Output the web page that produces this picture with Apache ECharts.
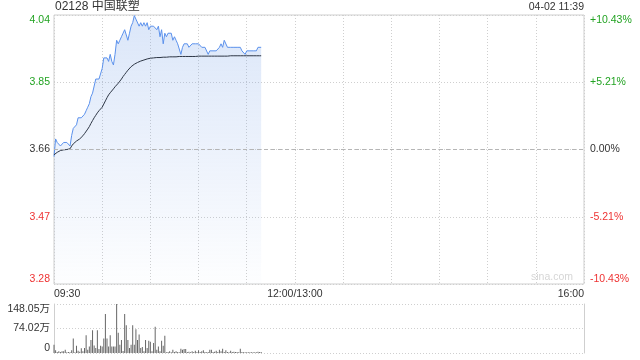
<!DOCTYPE html>
<html>
<head>
<meta charset="utf-8">
<script src="https://cdn.jsdelivr.net/npm/echarts@6/dist/echarts.min.js"></script>
<style>html,body{margin:0;padding:0;background:#fff;}#c{width:640px;height:360px;}</style>
</head>
<body>
<div id="c"></div>
<script>
// ---- data ----
const titleText = '02128 中国联塑';
const timeStamp = '04-02 11:39';
const prevClose = 3.66;
const limitPct = 10.43;
const xTickMinutes = [0, 150, 330];
const xTickLabels = ['09:30', '12:00/13:00', '16:00'];
const leftTickLabels = ['3.28', '3.47', '3.66', '3.85', '4.04'];
const rightTickLabels = ['-10.43%', '-5.21%', '0.00%', '+5.21%', '+10.43%'];
const volTickLabels = ['0', '74.02万', '148.05万'];
const volMax = 148.05;

// price per minute from 09:30
const price = [
3.64,3.69,3.68,3.68,3.67,3.67,3.68,3.68,3.68,3.68,
3.67,3.70,3.72,3.72,3.73,3.75,3.75,3.75,3.75,3.76,
3.77,3.78,3.79,3.81,3.82,3.82,3.86,3.86,3.86,3.86,
3.89,3.92,3.92,3.92,3.91,3.93,3.91,3.90,3.93,3.97,
3.96,3.97,3.98,3.99,4.00,4.00,3.97,3.99,4.01,4.02,
4.04,4.03,4.03,4.01,4.02,4.01,4.02,4.01,4.02,4.00,
4.01,4.01,4.01,4.01,4.00,4.01,3.98,4.00,3.96,3.99,
3.98,3.99,3.99,3.99,3.97,3.98,3.97,3.96,3.96,3.93,
3.95,3.96,3.96,3.96,3.95,3.95,3.96,3.96,3.96,3.96,
3.96,3.96,3.95,3.95,3.95,3.95,3.93,3.94,3.94,3.94,
3.94,3.94,3.94,3.95,3.96,3.95,3.97,3.97,3.95,3.95,
3.95,3.95,3.95,3.95,3.95,3.95,3.95,3.94,3.94,3.93,
3.94,3.94,3.94,3.94,3.94,3.94,3.94,3.95,3.95,3.95
];
// average price per minute
const avgPrice = [
3.645,3.649,3.652,3.655,3.657,3.658,3.659,3.659,3.660,3.660,
3.662,3.670,3.676,3.680,3.684,3.687,3.690,3.695,3.699,3.705,
3.710,3.718,3.725,3.734,3.742,3.750,3.757,3.764,3.770,3.775,
3.780,3.789,3.798,3.807,3.815,3.821,3.826,3.832,3.838,3.843,
3.848,3.854,3.860,3.867,3.873,3.879,3.885,3.890,3.895,3.899,
3.902,3.905,3.907,3.909,3.911,3.913,3.914,3.916,3.917,3.918,
3.919,3.919,3.920,3.920,3.921,3.921,3.921,3.922,3.922,3.922,
3.922,3.923,3.923,3.923,3.923,3.923,3.923,3.924,3.924,3.924,
3.924,3.924,3.924,3.924,3.924,3.924,3.924,3.924,3.924,3.925,
3.925,3.925,3.925,3.925,3.925,3.925,3.925,3.925,3.925,3.925,
3.925,3.925,3.925,3.925,3.925,3.925,3.925,3.925,3.925,3.925,
3.926,3.926,3.926,3.926,3.926,3.926,3.926,3.926,3.926,3.926,
3.926,3.926,3.926,3.926,3.926,3.926,3.926,3.926,3.926,3.926
];
// volume per minute, in 万
const volume = [
25,8,3,5,3,5,5,10,2,3,
2,8,44,2,22,7,4,14,5,15,
54,10,20,39,69,23,15,69,12,22,
20,44,118,44,20,54,20,20,20,148,
61,25,39,6,118,84,39,15,25,84,
25,72,39,56,15,18,5,39,15,37,
34,5,30,79,10,20,5,37,22,52,
2,3,5,2,10,3,5,3,2,13,
10,12,12,3,4,2,5,3,7,3,
8,3,5,8,3,2,3,10,10,3,
4,7,3,10,5,13,3,8,3,2,
7,3,4,3,3,2,13,3,2,2,
2,2,2,2,2,2,2,4,3,3
];

// ---- chart ----
const FONT = 'Arial, "Liberation Sans", "Noto Sans CJK SC", sans-serif';
const GREEN = '#22a322';
const RED = '#ee3333';
const GRID_C = '#cfcfcf';
const pMin = prevClose * (1 - limitPct / 100);
const pMax = prevClose * (1 + limitPct / 100);
const pctStep = limitPct / 2;
function tickIdx(v) { return Math.round((v + limitPct) / pctStep); }
function signColor(v) { return v > 0.001 ? GREEN : (v < -0.001 ? RED : '#333'); }

const chart = echarts.init(document.getElementById('c'), null, {renderer: 'canvas'});
chart.setOption({
  animation: false,
  textStyle: {fontFamily: FONT},
  title: [
    {text: titleText, left: 55, top: 1, padding: 0, textStyle: {fontSize: 12, fontWeight: 'normal', color: '#333', fontFamily: FONT}},
    {text: timeStamp, right: 56, top: 2, padding: 0, textStyle: {fontSize: 10.5, fontWeight: 'normal', color: '#333', fontFamily: FONT}}
  ],
  graphic: [{
    type: 'text', right: 67, top: 272,
    style: {text: 'sina.com', fill: '#d6d6d6', fontSize: 10.5, fontFamily: FONT}
  }],
  grid: [
    {left: 54, right: 56, top: 15, height: 269, show: true, borderColor: GRID_C, borderWidth: 1, backgroundColor: 'transparent'},
    {left: 54, right: 56, top: 304, height: 49}
  ],
  xAxis: [
    {
      type: 'value', gridIndex: 0, min: 0, max: 330, interval: 30,
      axisLine: {show: false}, axisTick: {show: false},
      splitLine: {show: true, lineStyle: {color: GRID_C, type: [1, 2], width: 1}},
      axisLabel: {
        show: true, fontSize: 10.5, color: '#333', margin: 5, fontFamily: FONT,
        showMinLabel: true, showMaxLabel: true,
        alignMinLabel: 'left', alignMaxLabel: 'right',
        formatter: function (v) { const k = xTickMinutes.indexOf(v); return k >= 0 ? xTickLabels[k] : ''; }
      }
    },
    {
      type: 'value', gridIndex: 1, min: 0, max: 330, interval: 30,
      axisLine: {show: false}, axisTick: {show: false}, axisLabel: {show: false}, splitLine: {show: false}
    }
  ],
  yAxis: [
    {type: 'value', gridIndex: 0, min: pMin, max: pMax, show: false, splitLine: {show: false}},
    {
      type: 'value', gridIndex: 0, position: 'left', min: -limitPct, max: limitPct, interval: pctStep,
      axisLine: {show: false}, axisTick: {show: false},
      splitLine: {show: true, lineStyle: {color: GRID_C, type: [1, 2], width: 1}},
      axisLabel: {
        fontSize: 10.5, margin: 4, fontFamily: FONT,
        showMinLabel: true, showMaxLabel: true,
        verticalAlignMinLabel: 'bottom', verticalAlignMaxLabel: 'top',
        color: function (v) { return signColor(v); },
        formatter: function (v) { return leftTickLabels[tickIdx(v)]; }
      }
    },
    {
      type: 'value', gridIndex: 0, position: 'right', min: -limitPct, max: limitPct, interval: pctStep,
      axisLine: {show: false}, axisTick: {show: false}, splitLine: {show: false},
      axisLabel: {
        fontSize: 10.5, margin: 6, fontFamily: FONT,
        showMinLabel: true, showMaxLabel: true,
        verticalAlignMinLabel: 'bottom', verticalAlignMaxLabel: 'top',
        color: function (v) { return signColor(v); },
        formatter: function (v) { return rightTickLabels[tickIdx(v)]; }
      }
    },
    {
      type: 'value', gridIndex: 1, position: 'left', min: 0, max: volMax, interval: volMax / 2,
      axisLine: {show: true, lineStyle: {color: GRID_C}}, axisTick: {show: false},
      splitLine: {show: true, lineStyle: {color: GRID_C, type: [1, 2], width: 1}},
      axisLabel: {
        fontSize: 10.5, margin: 4, color: '#333', fontFamily: FONT,
        showMinLabel: true, showMaxLabel: true,
        verticalAlignMinLabel: 'bottom', verticalAlignMaxLabel: 'top',
        formatter: function (v) { return volTickLabels[Math.round(v / (volMax / 2))]; }
      }
    },
    {
      type: 'value', gridIndex: 1, position: 'right', min: 0, max: volMax, interval: volMax / 2,
      axisLine: {show: true, lineStyle: {color: GRID_C}}, axisTick: {show: false},
      axisLabel: {show: false}, splitLine: {show: false}
    }
  ],
  series: [
    {
      type: 'line', xAxisIndex: 0, yAxisIndex: 0,
      data: price.map(function (p, i) { return [i, p]; }),
      symbol: 'none', lineStyle: {color: '#5b91ec', width: 1},
      areaStyle: {
        origin: 'start',
        color: new echarts.graphic.LinearGradient(0, 0, 0, 1, [
          {offset: 0, color: 'rgba(120,162,232,0.38)'},
          {offset: 1, color: 'rgba(120,162,232,0.02)'}
        ])
      },
      markLine: {
        silent: true, symbol: 'none', label: {show: false},
        lineStyle: {color: '#b5b5b5', type: [4, 3], width: 1},
        data: [{yAxis: prevClose}]
      },
      z: 3
    },
    {
      type: 'line', xAxisIndex: 0, yAxisIndex: 0,
      data: avgPrice.map(function (p, i) { return [i, p]; }),
      symbol: 'none', lineStyle: {color: '#2d3645', width: 1}, z: 4
    },
    {
      type: 'bar', xAxisIndex: 1, yAxisIndex: 3,
      data: volume.map(function (v, i) { return [i, v]; }),
      barWidth: 1, itemStyle: {color: '#666'}
    }
  ]
});
</script>
</body>
</html>
